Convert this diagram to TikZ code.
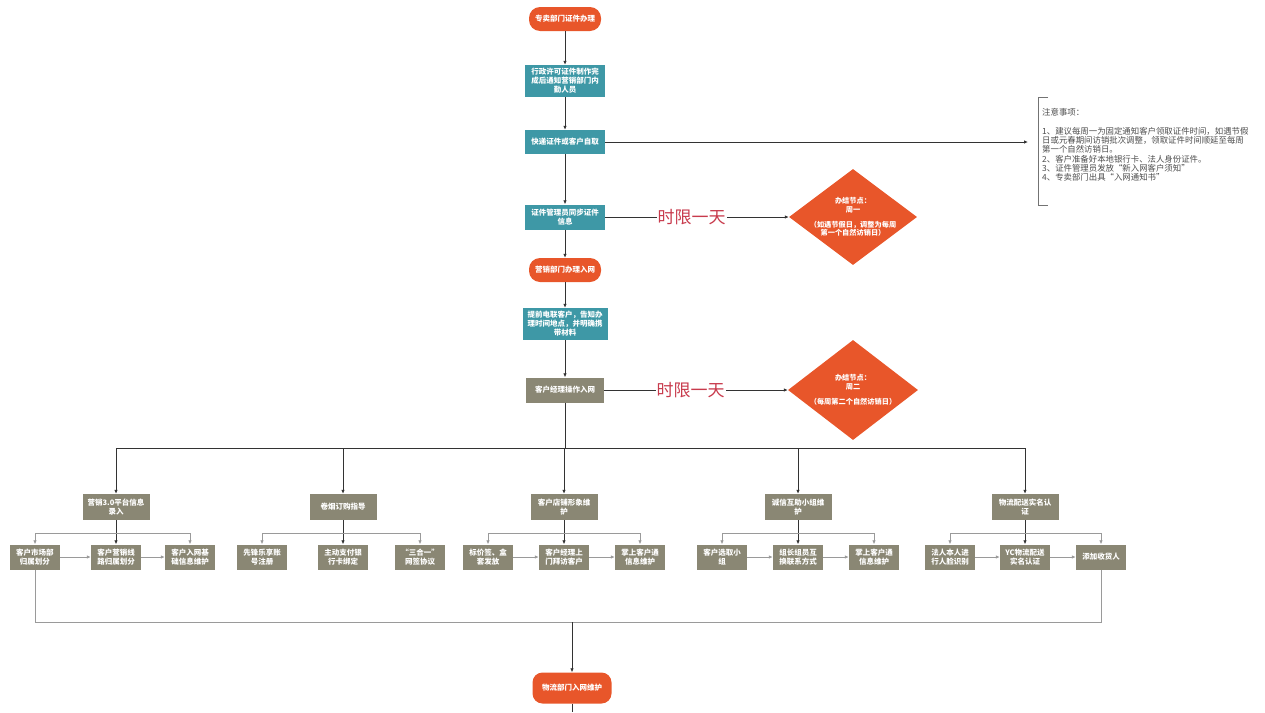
\documentclass[tikz,border=0pt]{standalone}
\usepackage{fontspec}
\setmainfont{Noto Sans CJK SC}
\usetikzlibrary{arrows.meta,shapes.geometric}
\definecolor{flowred}{HTML}{E8562A}
\definecolor{flowteal}{HTML}{3E98A6}
\definecolor{flowgray}{HTML}{8A8774}
\definecolor{limitred}{HTML}{C83A4C}
\definecolor{mainline}{HTML}{333333}
\definecolor{subline}{HTML}{9A9A9A}
\newcommand{\boxfont}{\fontsize{7.5}{9}\selectfont\bfseries}
\tikzset{
  termbox/.style={fill=flowred, text=white, rounded corners=11pt, align=center, minimum width=72pt, minimum height=24pt, inner sep=2pt, font=\boxfont},
  tealbox/.style={fill=flowteal, text=white, align=center, minimum width=80pt, minimum height=24pt, inner sep=2pt, font=\boxfont},
  graybox/.style={fill=flowgray, text=white, align=center, minimum width=78pt, minimum height=25pt, inner sep=2pt, font=\boxfont},
  catbox/.style={fill=flowgray, text=white, align=center, minimum width=67pt, minimum height=26pt, inner sep=2pt, font=\boxfont},
  childbox/.style={fill=flowgray, text=white, align=center, minimum width=50pt, minimum height=25pt, inner sep=1pt, font=\boxfont},
  donebox/.style={diamond, fill=flowred, minimum width=128pt, minimum height=96pt, inner sep=0pt},
  donetext/.style={text=white, align=center, inner sep=0pt, font=\fontsize{7.2}{8.8}\selectfont\bfseries},
  limitlabel/.style={fill=white, text=limitred, inner sep=1pt, font=\fontsize{17}{20}\selectfont},
  notetext/.style={text=black!70, align=left, inner sep=0pt, font=\fontsize{8.4}{9.2}\selectfont},
  flowarrow/.style={-{Latex[length=4pt,width=3.5pt]}, draw=mainline, line width=0.8pt},
  flowline/.style={draw=mainline, line width=0.8pt},
  subarrow/.style={-{Latex[length=4pt,width=3.5pt]}, draw=subline, line width=0.9pt},
  subline/.style={draw=subline, line width=0.9pt}
}

\begin{document}
\begin{tikzpicture}[x=1pt,y=-1pt]
\useasboundingbox (0,0) rectangle (1265,712);
% main column
\node[termbox] (start) at (565,19) {专卖部门证件办理};
\node[tealbox, minimum height=32pt] (permit) at (565,81) {行政许可证件制作完\\成后通知营销部门内\\勤人员};
\node[tealbox] (express) at (565,142) {快递证件或客户自取};
\node[tealbox, minimum height=25pt] (sync) at (565,217) {证件管理员同步证件\\信息};
\node[termbox] (netreg) at (565,270) {营销部门办理入网};
\node[tealbox, minimum width=85pt, minimum height=32pt] (contact) at (565,324) {提前电联客户，告知办\\理时间地点，并明确携\\带材料};
\node[graybox] (operate) at (565,390) {客户经理操作入网};
\draw[flowarrow] (start) -- (permit);
\draw[flowarrow] (permit) -- (express);
\draw[flowarrow] (express) -- (sync);
\draw[flowarrow] (sync) -- (netreg);
\draw[flowarrow] (netreg) -- (contact);
\draw[flowarrow] (contact) -- (operate);

% deadlines
\node[donebox, label={[donetext]center:{办结节点：\\周一\\[6pt]（如遇节假日，调整为每周\\第一个自然访销日）}}] (done1) at (853,217) {};
\node[donebox, minimum width=130pt, minimum height=100pt, label={[donetext]center:{办结节点：\\周二\\[6pt]（每周第二个自然访销日）}}] (done2) at (853,390) {};
\draw[flowarrow] (sync) -- node[limitlabel, pos=0.47] {时限一天} (done1);
\draw[flowarrow] (operate) -- node[limitlabel, pos=0.47] {时限一天} (done2);

% notes
\coordinate (notein) at (1028,142);
\draw[flowarrow] (express) -- (notein);
\draw[draw=black!55, line width=0.7pt] (1048,97) -- (1038,97) -- (1038,205) -- (1048,205);
\node[notetext, anchor=north west] (note) at (1042,108) {注意事项：\\[10pt]1、建议每周一为固定通知客户领取证件时间，如遇节假\\日或元春期间访销批次调整，领取证件时间顺延至每周\\第一个自然访销日。\\2、客户准备好本地银行卡、法人身份证件。\\3、证件管理员发放“新入网客户须知”\\4、专卖部门出具“入网通知书”};

% categories
\node[catbox] (cat1) at (116,507) {营销3.0平台信息\\录入};
\node[catbox] (cat2) at (343,507) {卷烟订购指导};
\node[catbox] (cat3) at (564,507) {客户店铺形象维\\护};
\node[catbox] (cat4) at (798,507) {诚信互助小组维\\护};
\node[catbox] (cat5) at (1025,507) {物流配送实名认\\证};
\coordinate (bus) at (565,448);
\draw[flowline] (operate) -- (bus);
\draw[flowline] (cat1.north |- bus) -- (cat5.north |- bus);
\foreach \c in {cat1,cat2,cat3,cat4,cat5} {
  \draw[flowarrow] (\c.north |- bus) -- (\c.north);
}

% tasks
\node[childbox] (c11) at (35,557) {客户市场部\\归属划分};
\node[childbox] (c12) at (116,557) {客户营销线\\路归属划分};
\node[childbox] (c13) at (190,557) {客户入网基\\础信息维护};
\node[childbox] (c21) at (262,557) {先锋乐享账\\号注册};
\node[childbox] (c22) at (343,557) {主动支付银\\行卡绑定};
\node[childbox] (c23) at (420,557) {“三合一”\\网签协议};
\node[childbox] (c31) at (488,557) {标价签、盒\\套发放};
\node[childbox] (c32) at (564,557) {客户经理上\\门拜访客户};
\node[childbox] (c33) at (640,557) {掌上客户通\\信息维护};
\node[childbox] (c41) at (722,557) {客户选取小\\组};
\node[childbox] (c42) at (798,557) {组长组员互\\换联系方式};
\node[childbox] (c43) at (874,557) {掌上客户通\\信息维护};
\node[childbox] (c51) at (950,557) {法人本人进\\行人脸识别};
\node[childbox] (c52) at (1025,557) {YC物流配送\\实名认证};
\node[childbox] (c53) at (1101,557) {添加收货人};
\foreach \g in {1,...,5} {
  \draw[flowarrow] (cat\g) -- (c\g2);
  \draw[subarrow] (c\g2.north |- 0,533) -| (c\g1.north);
  \draw[subarrow] (c\g2.north |- 0,533) -| (c\g3.north);
}
\foreach \g in {1,3,4,5} {
  \draw[subarrow] (c\g1) -- (c\g2);
  \draw[subarrow] (c\g2) -- (c\g3);
}

% merge
\node[termbox, minimum width=79pt, minimum height=31pt, rounded corners=10pt] (logistics) at (572,688) {物流部门入网维护};
\coordinate (merge) at (572,622);
\coordinate (tail) at (572,712);
\draw[subline] (c11.south) -- (c11.south |- merge) -- (c53.south |- merge) -- (c53.south);
\draw[flowarrow] (merge) -- (logistics);
\draw[flowline] (logistics) -- (tail);
\end{tikzpicture}
\end{document}
